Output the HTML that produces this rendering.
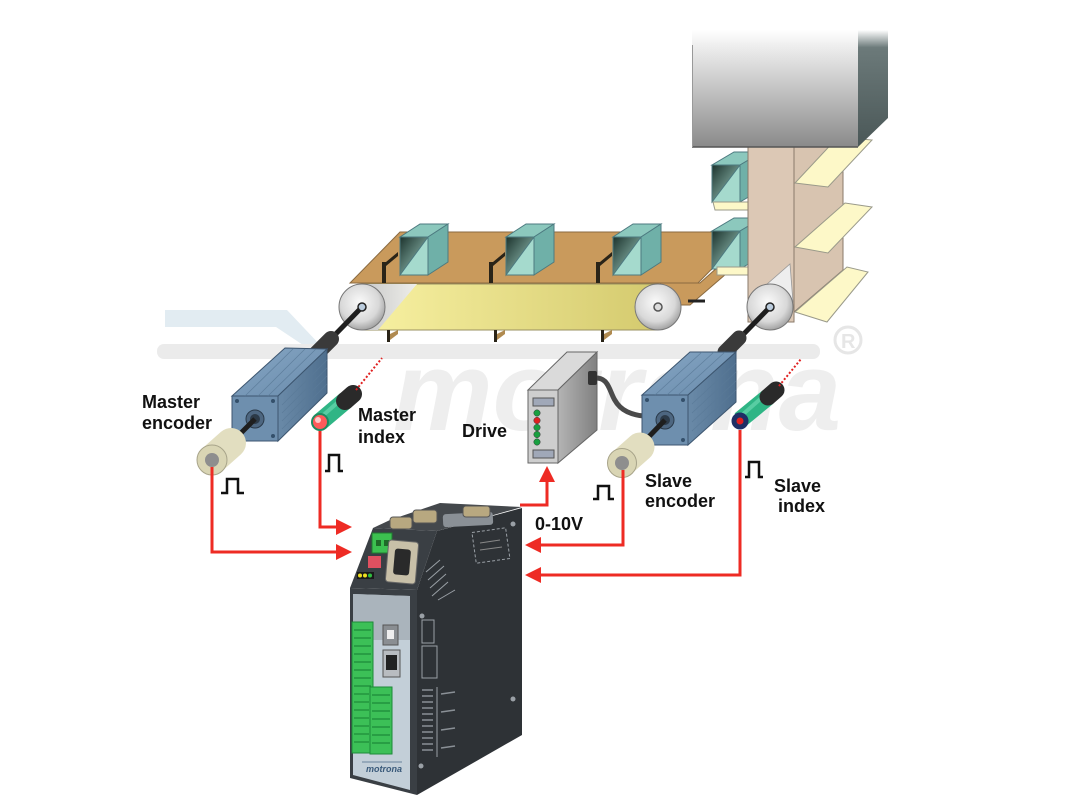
<!DOCTYPE html>
<html><head><meta charset="utf-8"><style>
html,body{margin:0;padding:0;background:#fff;}
svg{display:block;}
text{font-family:"Liberation Sans",Arial,sans-serif;}
</style></head><body>
<svg width="1067" height="800" viewBox="0 0 1067 800" xmlns="http://www.w3.org/2000/svg">
<defs>
 <linearGradient id="mf" x1="0" y1="0" x2="0" y2="1"><stop offset="0" stop-color="#ffffff"/><stop offset="0.12" stop-color="#f0f0f0"/><stop offset="1" stop-color="#8a8a8a"/></linearGradient>
 <linearGradient id="ms" x1="0" y1="0" x2="0" y2="1"><stop offset="0" stop-color="#ffffff"/><stop offset="0.15" stop-color="#6c7a7a"/><stop offset="1" stop-color="#4a5757"/></linearGradient>
 <linearGradient id="belt" x1="0" y1="0" x2="1" y2="0"><stop offset="0" stop-color="#f8f1a2"/><stop offset="1" stop-color="#d4ca6e"/></linearGradient>
 <radialGradient id="roll" cx="0.45" cy="0.4" r="0.6"><stop offset="0" stop-color="#fafafa"/><stop offset="0.7" stop-color="#d8d8d8"/><stop offset="1" stop-color="#a4a4a4"/></radialGradient>
 <linearGradient id="bx" x1="0" y1="0" x2="1" y2="1"><stop offset="0" stop-color="#1c332d"/><stop offset="1" stop-color="#a8d8cc"/></linearGradient>
 <linearGradient id="cone" x1="0" y1="0" x2="1" y2="0"><stop offset="0" stop-color="#c8c8c8"/><stop offset="1" stop-color="#eeeeea"/></linearGradient>
 <linearGradient id="drs" x1="0" y1="0" x2="1" y2="0"><stop offset="0" stop-color="#b4b4b4"/><stop offset="1" stop-color="#808080"/></linearGradient>
 <linearGradient id="mtop" x1="0" y1="0" x2="1" y2="1"><stop offset="0" stop-color="#86a6c4"/><stop offset="1" stop-color="#6a8cac"/></linearGradient>
 <linearGradient id="mside" x1="0" y1="0" x2="1" y2="0"><stop offset="0" stop-color="#6a8aa8"/><stop offset="1" stop-color="#4f6f8e"/></linearGradient>
</defs>

<!-- watermark -->
<path d="M165,310 L287,310 L322,347 L306,347 L276,327 L165,327 Z" fill="#e2ecf2"/>
<rect x="157" y="344" width="663" height="15" rx="7" fill="#ebebeb"/>
<text x="393" y="430" font-size="112" font-weight="bold" font-style="italic" fill="#eeeeee">motrona</text>
<circle cx="848" cy="340" r="13" fill="none" stroke="#e6e6e6" stroke-width="3"/>
<text x="841" y="348" font-size="20" font-weight="bold" fill="#e6e6e6">R</text>

<!-- vertical column area -->
<polygon points="794,147 843,147 843,270 794,312" fill="#d8c4b0" stroke="#8a7a6a"/>
<polygon points="795,183 828,187 872,140 838,137" fill="#fdf8c8" stroke="#9a9a8a"/>
<polygon points="795,247 828,253 872,207 845,203" fill="#fdf8c8" stroke="#9a9a8a"/>
<polygon points="795,312 827,322 868,272 847,267" fill="#fdf8c8" stroke="#9a9a8a"/>
<!-- side boxes -->
<g stroke="#4d7a80" stroke-width="1">
 <polygon points="712,165 740,165 762,152 734,152" fill="#8cc8bd"/>
 <polygon points="740,165 762,152 762,189 740,202" fill="#6fb0a8"/>
 <rect x="712" y="165" width="28" height="37" fill="#a5dacd"/>
 <polygon points="712,165 740,165 712,202" fill="url(#bx)"/>
</g>
<polygon points="713,202 748,202 748,210 715,210" fill="#fdf8c8" stroke="#9a9a8a"/>

<!-- conveyor brown top -->
<polygon points="400,232 748,232 698,283 350,283" fill="#c99a5c" stroke="#8a6a40"/>
<polygon points="660,283 700,283 748,240 748,255 690,305 672,305" fill="#c99a5c" stroke="#8a6a40"/>
<line x1="688" y1="301" x2="705" y2="301" stroke="#222" stroke-width="3"/>
<g stroke="#4d7a80" stroke-width="1">
 <polygon points="712,231 740,231 762,218 734,218" fill="#8cc8bd"/>
 <polygon points="740,231 762,218 762,256 740,269" fill="#6fb0a8"/>
 <rect x="712" y="231" width="28" height="38" fill="#a5dacd"/>
 <polygon points="712,231 740,231 712,269" fill="url(#bx)"/>
</g>
<polygon points="717,267 748,267 748,275 717,275" fill="#fdf8c8" stroke="#9a9a8a"/>

<!-- column front -->
<rect x="748" y="147" width="46" height="175" fill="#dcc8b5" stroke="#8a7a6a"/>

<!-- machine -->
<rect x="692" y="30" width="166" height="117" fill="url(#mf)"/>
<polygon points="858,30 888,30 888,118 858,147" fill="url(#ms)"/>
<line x1="692" y1="147" x2="858" y2="147" stroke="#555" stroke-width="1.5"/>
<line x1="692.5" y1="45" x2="692.5" y2="147" stroke="#999"/>

<!-- cleats top -->
<g fill="#2a2418">
 <polygon points="382,262 386,262 398,252 398,256 386,266 386,283 382,283"/>
 <polygon points="489,262 493,262 505,252 505,256 493,266 493,283 489,283"/>
 <polygon points="596,262 600,262 612,252 612,256 600,266 600,283 596,283"/>
</g>
<!-- conveyor boxes -->
<g stroke="#4d7a80" stroke-width="1">
 <polygon points="400,237 428,237 448,224 420,224" fill="#8cc8bd"/>
 <polygon points="428,237 448,224 448,262 428,275" fill="#6fb0a8"/>
 <rect x="400" y="237" width="28" height="38" fill="#a5dacd"/>
 <polygon points="400,237 428,237 400,275" fill="url(#bx)"/>
 <polygon points="506,237 534,237 554,224 526,224" fill="#8cc8bd"/>
 <polygon points="534,237 554,224 554,262 534,275" fill="#6fb0a8"/>
 <rect x="506" y="237" width="28" height="38" fill="#a5dacd"/>
 <polygon points="506,237 534,237 506,275" fill="url(#bx)"/>
 <polygon points="613,237 641,237 661,224 633,224" fill="#8cc8bd"/>
 <polygon points="641,237 661,224 661,262 641,275" fill="#6fb0a8"/>
 <rect x="613" y="237" width="28" height="38" fill="#a5dacd"/>
 <polygon points="613,237 641,237 613,275" fill="url(#bx)"/>
</g>

<!-- belt front -->
<rect x="362" y="284" width="296" height="46" fill="url(#belt)" stroke="#9a9060"/>
<polygon points="362,284 417,284 378,330 362,330" fill="url(#cone)"/>
<!-- bottom fins -->
<g fill="#2a2418">
 <rect x="387" y="330" width="3" height="12"/><polygon points="390,334 398,330 398,334 390,340" fill="#b08a50"/>
 <rect x="494" y="330" width="3" height="12"/><polygon points="497,334 505,330 505,334 497,340" fill="#b08a50"/>
 <rect x="601" y="330" width="3" height="12"/><polygon points="604,334 612,330 612,334 604,340" fill="#b08a50"/>
</g>
<!-- rollers -->
<circle cx="362" cy="307" r="23" fill="url(#roll)" stroke="#777"/>
<circle cx="658" cy="307" r="23" fill="url(#roll)" stroke="#777"/>
<circle cx="658" cy="307" r="4" fill="#ddd" stroke="#555" stroke-width="1.5"/>
<polygon points="758,292 790,264 793,302" fill="#eeeeee" stroke="#999" stroke-width="0.8"/>
<circle cx="770" cy="307" r="23" fill="url(#roll)" stroke="#777"/>

<!-- shafts -->
<line x1="325" y1="345" x2="362" y2="307" stroke="#1e1e1e" stroke-width="5"/>
<line x1="733" y1="345" x2="770" y2="307" stroke="#1e1e1e" stroke-width="5"/>
<circle cx="362" cy="307" r="4" fill="#bcd" stroke="#222" stroke-width="1.5"/>
<circle cx="770" cy="307" r="4" fill="#bcd" stroke="#222" stroke-width="1.5"/>
<line x1="316" y1="354" x2="331" y2="339" stroke="#3a3a3a" stroke-width="16" stroke-linecap="round"/>
<line x1="725" y1="352" x2="739" y2="338" stroke="#3a3a3a" stroke-width="15" stroke-linecap="round"/>

<!-- master motor -->
<g stroke="#3d5670" stroke-width="1">
 <polygon points="232,396 278,396 327,349 285,348" fill="url(#mtop)"/>
 <polygon points="278,396 327,349 327,393 278,441" fill="url(#mside)"/>
 <rect x="232" y="396" width="46" height="45" fill="#6e8fae"/>
</g>
<g stroke="#5a7a98" stroke-width="0.8" opacity="0.8">
 <line x1="282" y1="405" x2="327" y2="360"/><line x1="282" y1="413" x2="327" y2="368"/><line x1="282" y1="421" x2="327" y2="376"/><line x1="282" y1="429" x2="327" y2="384"/>
 <line x1="245" y1="396" x2="293" y2="349"/><line x1="258" y1="396" x2="305" y2="349"/><line x1="268" y1="396" x2="316" y2="349"/>
</g>
<g fill="#34506b"><circle cx="237" cy="401" r="2"/><circle cx="273" cy="401" r="2"/><circle cx="237" cy="436" r="2"/><circle cx="273" cy="436" r="2"/></g>
<circle cx="255" cy="419" r="9" fill="#4d6680" stroke="#2a3a4a"/>
<circle cx="255" cy="419" r="5" fill="#2c3a48"/>
<line x1="255" y1="419" x2="228" y2="446" stroke="#1e1e1e" stroke-width="5"/>
<!-- master encoder -->
<line x1="213" y1="459" x2="231" y2="443" stroke="#e2dec0" stroke-width="30" stroke-linecap="round"/>
<circle cx="212" cy="460" r="15" fill="#d9d5b4" stroke="#a8a48a"/>
<circle cx="212" cy="460" r="7" fill="#8e8e8e"/>

<!-- master index sensor -->
<line x1="320" y1="422" x2="346" y2="400" stroke="#2fb585" stroke-width="18"/>
<line x1="320" y1="418" x2="344" y2="397" stroke="#6ad8b0" stroke-width="4" opacity="0.7"/>
<line x1="345" y1="401" x2="353" y2="394" stroke="#2a2a2a" stroke-width="18" stroke-linecap="round"/>
<circle cx="320" cy="422" r="9" fill="#1f8a60"/>
<circle cx="320" cy="422" r="7" fill="#ff5a5a"/>
<circle cx="318" cy="420" r="3" fill="#ffc8c8"/>
<line x1="356" y1="390" x2="382" y2="358" stroke="#e02020" stroke-width="2" stroke-dasharray="2,2"/>

<!-- drive -->
<polygon points="528,390 558,390 597,352 567,352" fill="#dadada" stroke="#666"/>
<polygon points="558,390 597,352 597,430 558,463" fill="url(#drs)" stroke="#666"/>
<rect x="528" y="390" width="30" height="73" fill="#cecece" stroke="#666"/>
<rect x="533" y="398" width="21" height="8" fill="#a0a8b8" stroke="#555"/>
<rect x="533" y="450" width="21" height="8" fill="#a0a8b8" stroke="#555"/>
<g stroke="#333" stroke-width="0.5">
<circle cx="537" cy="413" r="3.2" fill="#18a040"/>
<circle cx="537" cy="420.5" r="3.2" fill="#e02020"/>
<circle cx="537" cy="427.5" r="3.2" fill="#18a040"/>
<circle cx="537" cy="434.5" r="3.2" fill="#18a040"/>
<circle cx="537" cy="442" r="3.2" fill="#18a040"/>
</g>
<path d="M592,378 C620,375 600,412 644,416" fill="none" stroke="#4a4a4a" stroke-width="5"/>
<rect x="588" y="371" width="9" height="14" rx="2" fill="#333"/>

<!-- slave motor -->
<g stroke="#3d5670" stroke-width="1">
 <polygon points="642,395 688,395 736,352 690,352" fill="url(#mtop)"/>
 <polygon points="688,395 736,352 736,402 688,445" fill="url(#mside)"/>
 <rect x="642" y="395" width="46" height="50" fill="#6e8fae"/>
</g>
<g stroke="#5a7a98" stroke-width="0.8" opacity="0.8">
 <line x1="692" y1="404" x2="736" y2="363"/><line x1="692" y1="413" x2="736" y2="372"/><line x1="692" y1="422" x2="736" y2="381"/><line x1="692" y1="431" x2="736" y2="390"/>
 <line x1="655" y1="395" x2="702" y2="352"/><line x1="667" y1="395" x2="714" y2="352"/><line x1="678" y1="395" x2="725" y2="352"/>
</g>
<g fill="#34506b"><circle cx="647" cy="400" r="2"/><circle cx="683" cy="400" r="2"/><circle cx="647" cy="440" r="2"/><circle cx="683" cy="440" r="2"/></g>
<circle cx="665" cy="420" r="9" fill="#4d6680" stroke="#2a3a4a"/>
<circle cx="665" cy="420" r="5" fill="#2c3a48"/>
<line x1="665" y1="420" x2="638" y2="448" stroke="#1e1e1e" stroke-width="5"/>
<!-- slave encoder -->
<line x1="623" y1="462" x2="640" y2="447" stroke="#e2dec0" stroke-width="29" stroke-linecap="round"/>
<circle cx="622" cy="463" r="14.5" fill="#d9d5b4" stroke="#a8a48a"/>
<circle cx="622" cy="463" r="7" fill="#8e8e8e"/>

<!-- slave index -->
<line x1="740" y1="420" x2="768" y2="397" stroke="#2fb585" stroke-width="17"/>
<line x1="741" y1="416" x2="766" y2="394" stroke="#6ad8b0" stroke-width="4" opacity="0.7"/>
<line x1="768" y1="397" x2="776" y2="390" stroke="#2a2a2a" stroke-width="17" stroke-linecap="round"/>
<circle cx="740" cy="421" r="8.5" fill="#1f2f66"/>
<circle cx="740" cy="421" r="3.5" fill="#e02020"/>
<line x1="779" y1="386" x2="801" y2="359" stroke="#e02020" stroke-width="2" stroke-dasharray="2,2"/>

<!-- red signal lines -->
<g stroke="#ee2b24" stroke-width="3" fill="none">
 <polyline points="212,467 212,552 338,552"/>
 <polyline points="320,431 320,527 338,527"/>
 <polyline points="520,505 547,505 547,480"/>
 <polyline points="623,470 623,545 540,545"/>
 <polyline points="740,430 740,575 540,575"/>
</g>
<g fill="#ee2b24">
 <polygon points="352,552 336,544 336,560"/>
 <polygon points="352,527 336,519 336,535"/>
 <polygon points="547,466 539,482 555,482"/>
 <polygon points="525,545 541,537 541,553"/>
 <polygon points="525,575 541,567 541,583"/>
</g>

<!-- controller -->
<polygon points="417,590 437,531 522,508 522,735 417,795" fill="#2e3236"/>
<polygon points="373,528 390,520 440,503 522,507 437,531" fill="#44484c"/>
<polygon points="350,588 373,528 437,531 417,590" fill="#3a3f44"/>
<polygon points="350,588 417,590 417,795 350,778" fill="#3a3f44"/>
<polygon points="353,594 410,596 410,790 353,775" fill="#c3cfd8"/>
<polygon points="353,594 410,596 410,640 353,640" fill="#aab4bc"/>
<!-- top connectors -->
<rect x="443" y="513" width="50" height="13" rx="3" fill="#8a9096" transform="rotate(-3 468 520)"/>
<rect x="390" y="517" width="22" height="12" rx="3" fill="#b8a880" stroke="#555"/>
<rect x="413" y="510" width="24" height="13" rx="3" fill="#b8a880" stroke="#555"/>
<rect x="463" y="506" width="27" height="11" rx="3" fill="#b8a880" stroke="#555"/>
<!-- front upper items -->
<rect x="372" y="533" width="20" height="20" fill="#3cc050" stroke="#1f7a30"/>
<rect x="376" y="540" width="5" height="6" fill="#1f6a28"/><rect x="384" y="540" width="5" height="6" fill="#1f6a28"/>
<rect x="387" y="541" width="30" height="42" rx="3" fill="#c8c0a8" stroke="#666" transform="rotate(5 402 562)"/>
<rect x="394" y="549" width="16" height="26" rx="3" fill="#2a2a2a" transform="rotate(5 402 562)"/>
<rect x="368" y="556" width="13" height="12" fill="#e05060"/>
<rect x="357" y="572" width="17" height="7" fill="#1a1a1a"/>
<circle cx="360" cy="575.5" r="2" fill="#f0e020"/><circle cx="365" cy="575.5" r="2" fill="#f0e020"/><circle cx="370" cy="575.5" r="2" fill="#30c040"/>
<!-- front lower items -->
<g fill="#3cc057" stroke="#1d8a38" stroke-width="1">
 <rect x="352" y="622" width="21" height="131"/>
 <rect x="370" y="687" width="22" height="67"/>
</g>
<g stroke="#1d8a38" stroke-width="1.2">
 <line x1="354" y1="630" x2="371" y2="630"/><line x1="354" y1="638" x2="371" y2="638"/><line x1="354" y1="646" x2="371" y2="646"/><line x1="354" y1="654" x2="371" y2="654"/><line x1="354" y1="662" x2="371" y2="662"/><line x1="354" y1="670" x2="371" y2="670"/><line x1="354" y1="678" x2="371" y2="678"/><line x1="354" y1="686" x2="371" y2="686"/><line x1="354" y1="694" x2="369" y2="694"/><line x1="354" y1="702" x2="369" y2="702"/><line x1="354" y1="710" x2="369" y2="710"/><line x1="354" y1="718" x2="369" y2="718"/><line x1="354" y1="726" x2="369" y2="726"/><line x1="354" y1="734" x2="369" y2="734"/><line x1="354" y1="742" x2="369" y2="742"/>
 <line x1="372" y1="695" x2="390" y2="695"/><line x1="372" y1="703" x2="390" y2="703"/><line x1="372" y1="711" x2="390" y2="711"/><line x1="372" y1="719" x2="390" y2="719"/><line x1="372" y1="727" x2="390" y2="727"/><line x1="372" y1="735" x2="390" y2="735"/><line x1="372" y1="743" x2="390" y2="743"/>
</g>
<rect x="383" y="625" width="15" height="20" fill="#8a8e92" stroke="#555"/>
<rect x="387" y="630" width="7" height="9" fill="#eee"/>
<rect x="383" y="650" width="17" height="27" fill="#b8bcc0" stroke="#555"/>
<rect x="386" y="655" width="11" height="15" fill="#222"/>
<line x1="362" y1="762" x2="402" y2="762" stroke="#4a6a8a" stroke-width="0.8"/>
<text x="366" y="772" font-size="9" font-style="italic" font-weight="bold" fill="#3a5a7a">motrona</text>
<!-- right face details -->
<rect x="474" y="530" width="34" height="31" fill="none" stroke="#9aa0a6" stroke-dasharray="3,2" transform="rotate(-8 491 546)"/>
<line x1="480" y1="543" x2="500" y2="540" stroke="#888" stroke-width="1"/>
<line x1="480" y1="550" x2="502" y2="547" stroke="#888" stroke-width="1"/>
<g fill="#9aa0a6"><circle cx="513" cy="524" r="2.5"/><circle cx="422" cy="616" r="2.5"/><circle cx="513" cy="699" r="2.5"/><circle cx="421" cy="766" r="2.5"/></g>
<g stroke="#9aa0a6" stroke-width="1" fill="none">
 <rect x="422" y="620" width="12" height="23"/>
 <rect x="422" y="646" width="15" height="32"/>
 <line x1="426" y1="572" x2="440" y2="560"/><line x1="428" y1="580" x2="444" y2="566"/><line x1="430" y1="588" x2="446" y2="574"/><line x1="432" y1="596" x2="448" y2="582"/>
 <line x1="438" y1="600" x2="455" y2="590"/>
 <line x1="437" y1="687" x2="437" y2="757"/>
</g>
<g stroke="#8a9096" stroke-width="1.5">
 <line x1="422" y1="690" x2="433" y2="690"/><line x1="422" y1="696" x2="433" y2="696"/><line x1="422" y1="702" x2="433" y2="702"/><line x1="422" y1="708" x2="433" y2="708"/><line x1="422" y1="714" x2="433" y2="714"/><line x1="422" y1="720" x2="433" y2="720"/><line x1="422" y1="726" x2="433" y2="726"/><line x1="422" y1="732" x2="433" y2="732"/><line x1="422" y1="738" x2="433" y2="738"/><line x1="422" y1="744" x2="433" y2="744"/><line x1="422" y1="750" x2="433" y2="750"/>
 <line x1="441" y1="694" x2="455" y2="692"/><line x1="441" y1="712" x2="455" y2="710"/><line x1="441" y1="730" x2="455" y2="728"/><line x1="441" y1="748" x2="455" y2="746"/>
</g>

<!-- pulse symbols -->
<g stroke="#111" stroke-width="2.5" fill="none" stroke-linejoin="miter">
 <polyline points="221,493 227,493 227,479 238,479 238,493 244,493"/>
 <polyline points="325,471 329,471 329,455 339,455 339,471 343,471"/>
 <polyline points="593,499 598,499 598,486 609,486 609,499 614,499"/>
 <polyline points="745,477 749,477 749,462 759,462 759,477 763,477"/>
</g>

<!-- labels -->
<g font-size="18" font-weight="bold" fill="#111">
 <text x="142" y="408">Master</text>
 <text x="142" y="429">encoder</text>
 <text x="358" y="421">Master</text>
 <text x="358" y="443">index</text>
 <text x="462" y="437">Drive</text>
 <text x="535" y="530">0-10V</text>
 <text x="645" y="487">Slave</text>
 <text x="645" y="507">encoder</text>
 <text x="774" y="492">Slave</text>
 <text x="778" y="512">index</text>
</g>
</svg>
</body></html>
